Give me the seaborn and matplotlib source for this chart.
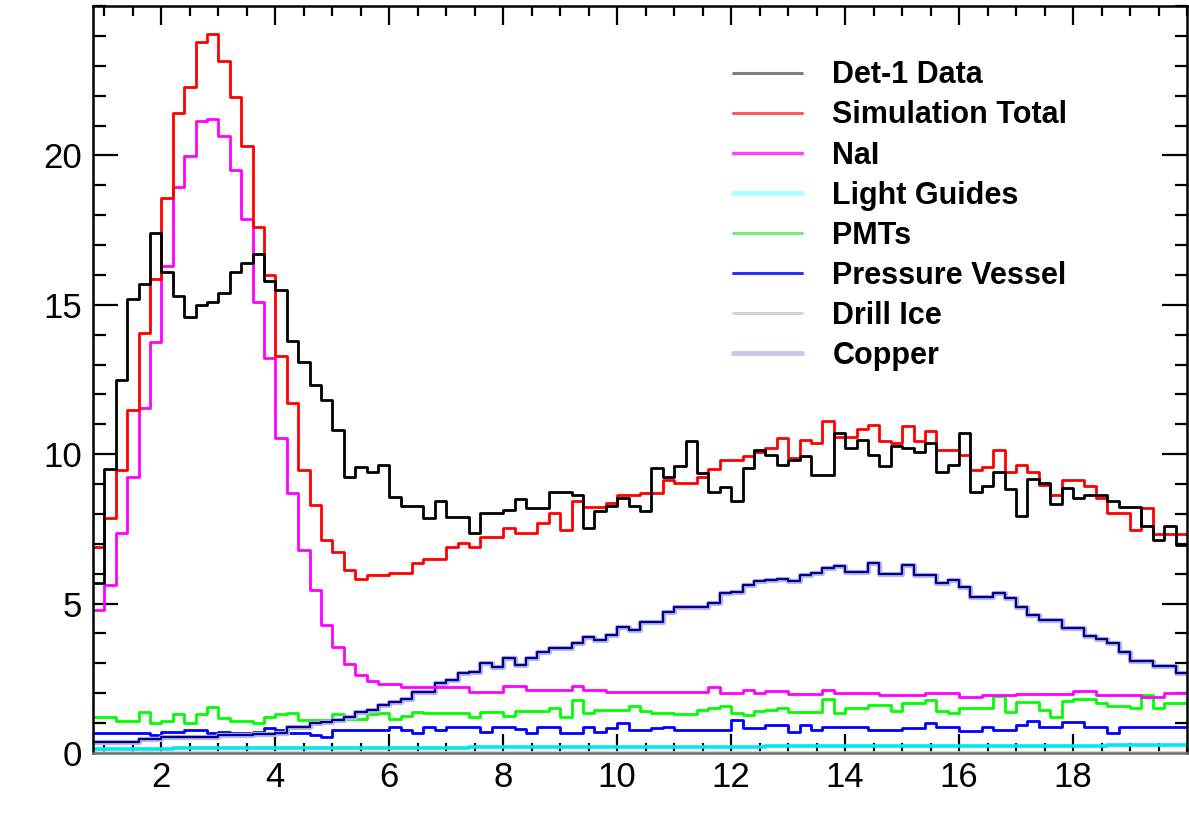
import numpy as np
import pandas as pd
import matplotlib
matplotlib.use("Agg")
import matplotlib.pyplot as plt
from matplotlib.lines import Line2D
from matplotlib.ticker import MultipleLocator
import seaborn as sns

# bin edges: 0.2 wide, 0.8 .. 20.0
edges = np.round(np.arange(0.8, 20.0001, 0.2), 2)
centers = (edges[:-1] + edges[1:]) / 2

det1_data = [5.7, 9.5, 12.5, 15.2, 15.7, 17.4, 16.1, 15.3, 14.6, 15.0,
             15.1, 15.4, 16.1, 16.4, 16.7, 15.8, 15.5, 13.8, 13.1, 12.3,
             11.8, 10.8, 9.25, 9.57, 9.42, 9.64, 8.58, 8.25, 8.25, 7.87,
             8.42, 7.91, 7.91, 7.36, 8.03, 8.03, 8.14, 8.5, 8.2, 8.2,
             8.72, 8.72, 8.64, 7.53, 8.11, 8.27, 8.54, 8.25, 8.11, 9.54,
             9.25, 9.61, 10.43, 9.37, 8.75, 8.9, 8.45, 9.54, 10.15, 9.98,
             9.64, 9.81, 9.95, 9.31, 9.31, 10.7, 10.2, 10.48, 9.98, 9.59,
             10.28, 10.2, 10.09, 10.38, 9.39, 9.64, 10.7, 8.72, 8.94, 9.39,
             8.84, 7.94, 9.17, 9.04, 8.34, 8.87, 8.54, 8.64, 8.64, 8.42,
             8.24, 8.24, 7.6, 7.13, 7.6, 6.97]

sim_total = [6.9, 7.87, 9.48, 11.49, 14.07, 15.87, 18.59, 21.43, 22.3, 23.78,
             24.05, 23.15, 21.97, 20.3, 17.6, 16.0, 13.3, 11.72, 9.48, 8.3,
             7.13, 6.74, 6.13, 5.82, 5.96, 5.96, 6.03, 6.03, 6.37, 6.5,
             6.5, 6.91, 7.04, 6.9, 7.24, 7.24, 7.53, 7.37, 7.37, 7.71,
             8.03, 7.47, 8.45, 8.24, 8.24, 8.37, 8.64, 8.64, 8.7, 8.7,
             9.14, 9.05, 9.05, 9.25, 9.51, 9.81, 9.81, 9.95, 10.09, 10.2,
             10.55, 9.88, 10.46, 10.38, 11.1, 10.59, 10.59, 10.85, 10.98, 10.43,
             10.38, 10.95, 10.43, 10.76, 10.15, 10.15, 9.98, 9.48, 9.57, 10.15,
             9.39, 9.64, 9.42, 8.98, 8.64, 9.12, 9.12, 8.92, 8.54, 8.03,
             8.03, 7.47, 8.2, 7.33, 7.33, 7.33]

nai = [4.79, 5.63, 7.36, 9.25, 11.54, 13.77, 16.29, 18.93, 19.97, 21.14,
       21.23, 20.64, 19.5, 17.87, 15.11, 13.22, 10.54, 8.7, 6.78, 5.44,
       4.29, 3.56, 2.98, 2.61, 2.42, 2.31, 2.31, 2.22, 2.22, 2.22,
       2.22, 2.22, 2.22, 2.05, 2.05, 2.05, 2.25, 2.25, 2.11, 2.11,
       2.11, 2.11, 2.25, 2.11, 2.11, 2.05, 2.05, 2.05, 2.05, 2.05,
       2.05, 2.05, 2.05, 2.05, 2.2, 2.0, 2.0, 2.1, 2.0, 2.07,
       2.07, 1.98, 1.98, 1.98, 2.1, 2.0, 2.0, 2.0, 2.0, 1.93,
       1.93, 1.93, 1.93, 2.0, 2.0, 2.0, 1.86, 1.86, 1.93, 1.93,
       1.93, 1.98, 1.98, 1.98, 1.98, 1.98, 2.07, 2.07, 1.95, 1.95,
       1.95, 1.95, 1.86, 1.86, 2.0, 2.0]

light_guides = [0.15, 0.15, 0.15, 0.15, 0.15, 0.15, 0.15, 0.16, 0.16, 0.16,
                0.16, 0.16, 0.16, 0.16, 0.16, 0.17, 0.17, 0.17, 0.17, 0.17,
                0.17, 0.17, 0.17, 0.17, 0.18, 0.18, 0.18, 0.18, 0.18, 0.18,
                0.18, 0.18, 0.18, 0.19, 0.19, 0.19, 0.19, 0.19, 0.19, 0.19,
                0.19, 0.19, 0.2, 0.2, 0.2, 0.2, 0.2, 0.2, 0.2, 0.2,
                0.2, 0.21, 0.21, 0.21, 0.21, 0.21, 0.21, 0.21, 0.21, 0.22,
                0.22, 0.22, 0.22, 0.22, 0.22, 0.22, 0.22, 0.23, 0.23, 0.23,
                0.23, 0.23, 0.23, 0.23, 0.24, 0.24, 0.24, 0.24, 0.24, 0.24,
                0.24, 0.25, 0.25, 0.25, 0.25, 0.25, 0.25, 0.25, 0.25, 0.26,
                0.26, 0.26, 0.26, 0.26, 0.26, 0.26]

pmts = [1.2, 1.2, 1.08, 1.08, 1.38, 0.99, 1.08, 1.31, 0.99, 1.31,
        1.53, 1.16, 1.08, 1.08, 0.99, 1.2, 1.31, 1.35, 1.1, 1.1,
        1.1, 1.3, 1.13, 1.13, 1.3, 1.33, 1.13, 1.24, 1.38, 1.33,
        1.33, 1.33, 1.33, 1.22, 1.38, 1.38, 1.24, 1.41, 1.41, 1.41,
        1.5, 1.22, 1.77, 1.33, 1.43, 1.43, 1.43, 1.57, 1.4, 1.35,
        1.35, 1.3, 1.3, 1.43, 1.5, 1.57, 1.35, 1.27, 1.41, 1.44,
        1.5, 1.38, 1.38, 1.38, 1.8, 1.33, 1.5, 1.5, 1.61, 1.61,
        1.4, 1.68, 1.68, 1.77, 1.41, 1.33, 1.5, 1.5, 1.5, 1.9,
        1.38, 1.72, 1.72, 1.44, 1.22, 1.75, 1.8, 1.8, 1.68, 1.57,
        1.57, 1.5, 1.94, 1.5, 1.66, 1.66]

pressure_vessel = [0.68, 0.68, 0.68, 0.68, 0.68, 0.6, 0.71, 0.71, 0.77, 0.77,
                   0.68, 0.71, 0.66, 0.66, 0.71, 0.83, 0.77, 0.66, 0.66, 0.6,
                   0.55, 0.77, 0.77, 0.77, 0.77, 0.77, 0.88, 0.77, 0.68, 0.88,
                   0.77, 0.88, 0.88, 0.88, 0.71, 0.88, 0.88, 0.79, 0.68, 0.88,
                   0.88, 0.68, 0.68, 0.88, 0.71, 0.83, 0.99, 0.77, 0.77, 0.83,
                   0.88, 0.77, 0.77, 0.77, 0.77, 0.77, 1.1, 0.85, 0.85, 0.94,
                   0.94, 0.71, 0.94, 0.77, 0.88, 0.88, 0.88, 0.88, 0.77, 0.77,
                   0.77, 0.83, 0.83, 0.99, 0.88, 0.88, 0.74, 0.74, 0.88, 0.77,
                   0.77, 0.94, 1.08, 0.88, 0.88, 1.05, 1.05, 0.88, 0.88, 0.66,
                   0.88, 0.88, 0.88, 0.88, 0.88, 0.88]

drill_ice = [0.05, 0.05, 0.05, 0.05, 0.05, 0.05, 0.05, 0.05, 0.05, 0.05,
             0.05, 0.05, 0.05, 0.05, 0.05, 0.05, 0.05, 0.05, 0.05, 0.05,
             0.05, 0.05, 0.05, 0.05, 0.05, 0.05, 0.05, 0.05, 0.05, 0.05,
             0.05, 0.05, 0.05, 0.05, 0.05, 0.05, 0.05, 0.05, 0.05, 0.05,
             0.05, 0.05, 0.05, 0.05, 0.05, 0.05, 0.05, 0.05, 0.05, 0.05,
             0.05, 0.05, 0.05, 0.05, 0.05, 0.05, 0.05, 0.05, 0.05, 0.05,
             0.05, 0.05, 0.05, 0.05, 0.05, 0.05, 0.05, 0.05, 0.05, 0.05,
             0.05, 0.05, 0.05, 0.05, 0.05, 0.05, 0.05, 0.05, 0.05, 0.05,
             0.05, 0.05, 0.05, 0.05, 0.05, 0.05, 0.05, 0.05, 0.05, 0.05,
             0.05, 0.05, 0.05, 0.05, 0.05, 0.05]

copper = [0.38, 0.38, 0.38, 0.38, 0.46, 0.46, 0.55, 0.55, 0.55, 0.55,
          0.55, 0.6, 0.6, 0.6, 0.63, 0.65, 0.68, 0.88, 0.88, 1.02,
          1.05, 1.1, 1.2, 1.38, 1.44, 1.61, 1.72, 1.8, 2.05, 2.05,
          2.33, 2.44, 2.67, 2.72, 3.0, 2.87, 3.17, 2.95, 3.17, 3.39,
          3.5, 3.5, 3.67, 3.87, 3.78, 3.95, 4.21, 4.1, 4.4, 4.4,
          4.73, 4.88, 4.88, 4.88, 5.03, 5.35, 5.4, 5.63, 5.74, 5.79,
          5.82, 5.74, 5.96, 6.04, 6.18, 6.26, 6.07, 6.07, 6.37, 5.99,
          5.99, 6.3, 5.96, 5.96, 5.7, 5.79, 5.57, 5.21, 5.21, 5.35,
          5.18, 4.88, 4.62, 4.45, 4.45, 4.18, 4.18, 3.9, 3.81, 3.67,
          3.39, 3.09, 3.09, 2.91, 2.91, 2.69]

labels = ["Det-1 Data", "Simulation Total", "NaI", "Light Guides",
          "PMTs", "Pressure Vessel", "Drill Ice", "Copper"]
legend_colors = ["#808080", "#ff5a5a", "#ff40ff", "#aaffff",
                 "#77ee77", "#3030ff", "#d4d4d4", "#c8c8e8"]
legend_widths = [2.2, 2.2, 2.4, 3.5, 2.2, 2.2, 2.2, 3.5]

sns.set_style("ticks")
plt.rcParams["font.family"] = ["Liberation Sans", "DejaVu Sans"]
plt.rcParams["text.color"] = "black"
plt.rcParams["xtick.color"] = "black"
plt.rcParams["ytick.color"] = "black"

fig = plt.figure(figsize=(11.89, 8.16), dpi=100)
ax = fig.add_axes([93 / 1189, 63 / 816, 1094 / 1189, 747 / 816])


def step_hist(vals, color, lw):
    df = pd.DataFrame({"energy": centers, "counts": vals})
    sns.histplot(data=df, x="energy", weights="counts", bins=list(edges),
                 element="step", fill=False, color=color, linewidth=lw, ax=ax)


step_hist(drill_ice, "#d0d0d0", 2.0)
step_hist(light_guides, "#00e8f0", 2.6)
step_hist(pmts, "#00ff00", 2.0)
step_hist(pressure_vessel, "#0000ff", 2.0)
step_hist(copper, "#b8b8e6", 3.8)
step_hist(copper, "#00008c", 1.6)
step_hist(nai, "#ff00ff", 2.0)
step_hist(sim_total, "#ff0000", 2.0)
step_hist(det1_data, "#000000", 2.0)

ax.set_xlim(0.8, 20.0)
ax.set_ylim(0, 25)
ax.set_xlabel("")
ax.set_ylabel("")
ax.set_xticks([2, 4, 6, 8, 10, 12, 14, 16, 18])
ax.set_yticks([0, 5, 10, 15, 20])
ax.xaxis.set_minor_locator(MultipleLocator(0.5))
ax.yaxis.set_minor_locator(MultipleLocator(1))

ax.tick_params(axis="both", which="both", direction="in", top=True, right=True,
               color="black", labelcolor="black", width=1.6)
ax.tick_params(axis="y", which="major", length=18, pad=8, labelsize=25)
ax.tick_params(axis="y", which="minor", length=9)
ax.tick_params(axis="x", which="major", length=14, pad=6, labelsize=25)
ax.tick_params(axis="x", which="minor", length=7)
for side in ["left", "right", "top", "bottom"]:
    ax.spines[side].set_visible(True)
    ax.spines[side].set_linewidth(1.8)
    ax.spines[side].set_color("black")
ax.spines["bottom"].set_color("#707070")

handles = [Line2D([0], [0], color=c, lw=w) for c, w in zip(legend_colors, legend_widths)]
leg = fig.legend(handles, labels, loc="upper left",
                 bbox_to_anchor=(733 / 1189, 0.926), frameon=False,
                 prop={"family": "Liberation Sans", "weight": "bold", "size": 22},
                 handlelength=2.25, handletextpad=1.0, labelspacing=0.33,
                 borderpad=0, borderaxespad=0)
for t in leg.get_texts():
    t.set_color("black")

fig.savefig("out.png", dpi=100)
